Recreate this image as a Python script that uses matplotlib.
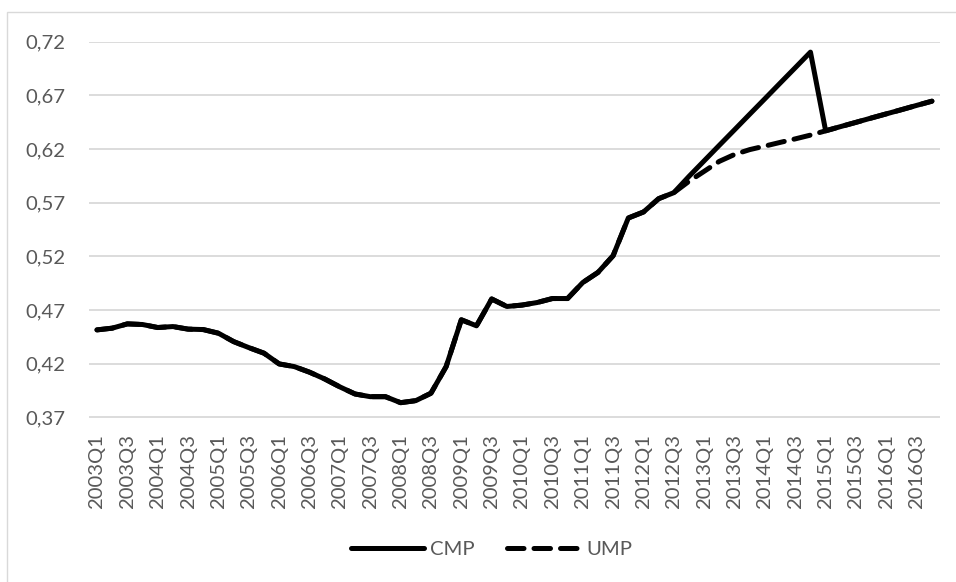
import matplotlib
matplotlib.use("Agg")
import matplotlib.pyplot as plt
from matplotlib.patches import Rectangle
from matplotlib.lines import Line2D
from matplotlib.ticker import FuncFormatter

plt.rcParams['font.family'] = ['Lato', 'DejaVu Sans']

# Quarterly periods 2003Q1 .. 2016Q4
years = list(range(2003, 2017))
quarters = [f"{y}Q{q}" for y in years for q in range(1, 5)]

cmp_values = [
    0.4516, 0.4532, 0.4572, 0.4566, 0.4538, 0.4547, 0.4523, 0.4519,
    0.4485, 0.4407, 0.4351, 0.4299, 0.4199, 0.4174, 0.4122, 0.4059,
    0.3985, 0.3919, 0.3894, 0.3894, 0.3838, 0.3857, 0.3926, 0.4174,
    0.4610, 0.4554, 0.4804, 0.4734, 0.4747, 0.4771, 0.4808, 0.4808,
    0.4957, 0.5051, 0.5207, 0.5558, 0.5614, 0.5738, 0.5794, 0.5946,
    0.6091, 0.6236, 0.6380, 0.6525, 0.6669, 0.6814, 0.6958, 0.7103,
    0.6370, 0.6410, 0.6449, 0.6489, 0.6528, 0.6567, 0.6607, 0.6646,
]

ump_values = [
    0.4516, 0.4532, 0.4572, 0.4566, 0.4538, 0.4547, 0.4523, 0.4519,
    0.4485, 0.4407, 0.4351, 0.4299, 0.4199, 0.4174, 0.4122, 0.4059,
    0.3985, 0.3919, 0.3894, 0.3894, 0.3838, 0.3857, 0.3926, 0.4174,
    0.4610, 0.4554, 0.4804, 0.4734, 0.4747, 0.4771, 0.4808, 0.4808,
    0.4957, 0.5051, 0.5207, 0.5558, 0.5614, 0.5738, 0.5794, 0.5900,
    0.5993, 0.6086, 0.6150, 0.6195, 0.6228, 0.6262, 0.6295, 0.6330,
    0.6370, 0.6410, 0.6449, 0.6489, 0.6528, 0.6567, 0.6607, 0.6646,
]

y_ticks = [0.37, 0.42, 0.47, 0.52, 0.57, 0.62, 0.67, 0.72]

W, H = 956, 582
fig = plt.figure(figsize=(W / 100, H / 100), dpi=100)
fig.patch.set_facecolor("white")

# chart-area border
fig.add_artist(Rectangle((7 / W, -0.01), 1.02, 1 - 12 / H + 0.01,
                         transform=fig.transFigure, fill=False,
                         edgecolor="#d9d9d9", linewidth=1.0))

left, right = 89.4 / W, 939.5 / W
top, bottom = 1 - 41.7 / H, 1 - 417.5 / H
ax = fig.add_axes([left, bottom, right - left, top - bottom])

x = list(range(len(quarters)))
ax.plot(x, cmp_values, color="black", linewidth=3.6,
        solid_joinstyle="round", solid_capstyle="round", zorder=3)
ax.plot(x, ump_values, color="black", linewidth=3.6,
        linestyle=(0, (3.3, 2.0)), dash_capstyle="round",
        dash_joinstyle="round", zorder=4)

ax.set_xlim(-0.5, len(quarters) - 0.5)
ax.set_ylim(0.37, 0.72)
ax.set_yticks(y_ticks)
ax.yaxis.set_major_formatter(FuncFormatter(lambda v, p: f"{v:.2f}".replace(".", ",")))
ax.set_xticks(x[::2])
ax.set_xticklabels(quarters[::2], rotation=90)

ax.grid(axis="y", color="#d9d9d9", linewidth=1.3)
ax.set_axisbelow(True)
for s in ax.spines.values():
    s.set_visible(False)
ax.tick_params(axis="both", length=0, labelsize=14.6, labelcolor="#595959")
ax.tick_params(axis="y", pad=17)
ax.tick_params(axis="x", pad=12)

handles = [
    Line2D([], [], color="black", linewidth=3.6, solid_capstyle="round"),
    Line2D([], [], color="black", linewidth=3.6, linestyle=(0, (3.3, 2.0)),
           dash_capstyle="round"),
]
leg = fig.legend(handles, ["CMP", "UMP"], loc="center",
                 bbox_to_anchor=(0.514, 1 - 549 / H), ncol=2, frameon=False,
                 fontsize=14.6, handlelength=3.6, handletextpad=0.3,
                 columnspacing=1.6)
for t in leg.get_texts():
    t.set_color("#595959")

fig.savefig("out.png", dpi=100, facecolor="white")
